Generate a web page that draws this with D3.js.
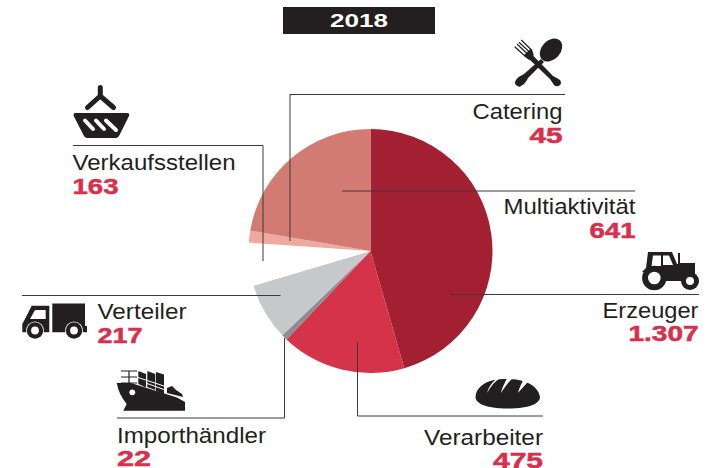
<!DOCTYPE html>
<html>
<head>
<meta charset="utf-8">
<script src="https://cdn.jsdelivr.net/npm/d3@7"></script>
<style>
html,body{margin:0;padding:0;background:#fff}
svg{display:block}
text{font-family:"Liberation Sans",Arial,sans-serif}
</style>
</head>
<body>
<svg id="c" width="706" height="468"></svg>
<script>
const title = "2018";
const categories = ["Erzeuger","Verarbeiter","Importhändler","Verteiler","Verkaufsstellen","Catering","Multiaktivität"];
const values = [1307,475,22,217,163,45,641];
const valueLabels = ["1.307","475","22","217","163","45","641"];
const colors = ["#a32032","#d53349","#8b8d90","#c6c8ca","#ffffff","#efa99f","#d27b72"];

// label layout: anchor x, name baseline, name width, value baseline, value width, leader polyline
const layout = {
  "Erzeuger":       {a:"end",  x:698.5,ny:317.5,nw:96, vy:341,  vw:70, line:[[451,294.5],[699,294.5]]},
  "Verarbeiter":    {a:"end",  x:543,  ny:444.5,nw:119,vy:467.5,vw:50, line:[[357.5,342],[357.5,416],[543,416]]},
  "Importhändler":  {a:"start",x:117,  ny:443,  nw:149,vy:466,  vw:34, line:[[117,418],[284.5,418],[284.5,338]]},
  "Verteiler":      {a:"start",x:97.5, ny:319,  nw:89, vy:342.5,vw:45, line:[[22,295.5],[280.5,295.5]]},
  "Verkaufsstellen":{a:"start",x:72.5, ny:170,  nw:163,vy:194,  vw:46, line:[[73,145.5],[263,145.5],[263,261]]},
  "Catering":       {a:"end",  x:562.5,ny:119,  nw:90, vy:143,  vw:33, line:[[565,94.5],[290,94.5],[290,241]]},
  "Multiaktivität": {a:"end",  x:635.5,ny:214,  nw:132,vy:238,  vw:46, line:[[342,191],[635,191]]}
};

const svg = d3.select("#c");
const ink = "#231f20";

// title
svg.append("rect").attr("x",283).attr("y",7).attr("width",152).attr("height",27).attr("fill",ink);
svg.append("text").attr("x",359).attr("y",27).attr("text-anchor","middle")
  .attr("fill","#fff").attr("font-size",18.5).attr("font-weight",700)
  .attr("textLength",58).attr("lengthAdjust","spacingAndGlyphs").text(title);

// pie
const pie = d3.pie().sort(null).value(d=>d)(values);
const arc = d3.arc().innerRadius(0).outerRadius(122);
svg.append("g").attr("transform","translate(370.5,251)")
  .selectAll("path").data(pie).join("path")
  .attr("d",arc).attr("fill",(d,i)=>colors[i]);

// leaders
const lineGen = d3.line();
svg.append("g").selectAll("path").data(categories).join("path")
  .attr("d",c=>lineGen(layout[c].line)).attr("fill","none")
  .attr("stroke","#3c3a3b").attr("stroke-width",1);

// labels
categories.forEach((c,i)=>{
  const l = layout[c];
  svg.append("text").attr("x",l.x).attr("y",l.ny).attr("text-anchor",l.a)
    .attr("fill",ink).attr("font-size",22.5)
    .attr("textLength",l.nw).attr("lengthAdjust","spacingAndGlyphs").text(c);
  svg.append("text").attr("x",l.x).attr("y",l.vy).attr("text-anchor",l.a)
    .attr("fill","#d92f4c").attr("font-size",21.5).attr("font-weight",700)
    .attr("stroke","#d92f4c").attr("stroke-width",0.5)
    .attr("textLength",l.vw).attr("lengthAdjust","spacingAndGlyphs").text(valueLabels[i]);
});

// icons
const ic = svg.append("g").attr("fill",ink);
function p(d,fill){return ic.append("path").attr("d",d).attr("fill",fill||ink);}
function s(d,w,col,cap){return ic.append("path").attr("d",d).attr("fill","none").attr("stroke",col||ink).attr("stroke-width",w).attr("stroke-linecap",cap||"round");}
function circ(x,y,r,fill){return ic.append("circle").attr("cx",x).attr("cy",y).attr("r",r).attr("fill",fill||ink);}

// basket
s("M100.3,87.5 V97 M87.5,107.5 L100.3,96 L113.5,107.5",5);
p("M75.5,113 H127 Q130,113 129,116 L119,136 Q118,138 115.5,138 H87.5 Q85,138 84,136 L73.7,116 Q73,113 75.5,113 Z");
s("M85,120.5 L93,129 M96,120.5 L104,129 M106,120.5 L116,130",4,"#fff");

// fork and spoon
p("M516,80 Q519,76 524,74 L541,59 L544,62 L528,78 Q526,83 521,86 Q519,88 516,85 Q514,83 516,80 Z");
ic.append("ellipse").attr("cx",551).attr("cy",50).attr("rx",13).attr("ry",9.5)
  .attr("transform","rotate(-48 551 50)").attr("fill",ink);
s("M514.7,46.7 L526,57 M517,44 L528,54.5 M519,42.3 L530,52.5 M521.3,40 L532,50.5",1.2,ink,"butt");
p("M524,55 L531,48.5 Q534,53 533.5,56 L553,76 Q557,78 560,80 Q562,83 560,85 Q557,87.5 554,85 Q552,82 550,79 L530,60 Q527,59.5 524,55 Z");

// tractor
p("M648,252 H672 L677,264 H678 V253 H680 V263 H695 V281 H662 V272 H642 L646,268 Z");
p("M653,255.5 H661 V266 H651.5 Z M663,255.5 H669 L673,265 H663 Z","#fff");
circ(654.3,278,12.2); circ(654.3,278,6.3,"#fff");
circ(690,281,9); circ(690,281,4,"#fff");

// truck
p("M52.3,303.5 H85 V326 H87 V332.3 H52.3 Z");
p("M49.3,305.7 H31.7 L25,319 L22.3,324 V332.3 H49.3 Z");
p("M35,310 H45.7 V319 H30 Z","#fff");
circ(35,330.5,9,"#fff"); circ(74,330.5,9,"#fff");
circ(35,330.5,8.2); circ(74,330.5,8.2);
circ(35,330.5,3.9,"#fff"); circ(74,330.5,3.9,"#fff");

// ship
p("M116.7,383 L131,383 L177,397.5 L185,402 V410.7 H123.3 L126.7,404 Q119,395 116.7,383 Z");
circ(132.3,392.3,2.9,"#fff");
p("M138.3,371 L146,374 V387.5 L138.3,384 Z M147.3,371 L155.3,374 V390 L147.3,387 Z M156,372 L164,374.5 V394 L156,391 Z");
s("M138,377.5 L164,386 M147,383.5 L164,389.5",1,"#fff","butt");
s("M121,371 H137 M121,377 H137 M121,383 H137 M129,371 V383",1.2,ink,"butt");
p("M167,388 L172,386 L176,390 L182,394 L183,397 L167,393 Z");

// bread
p("M475.5,397 C476,388 484,382 494,380 C502,378.5 515,378.5 523,381 C533,384 539,390 540,397 C540,403 531,408.5 508,408.5 C485,408.5 475.5,403 475.5,397 Z");
p("M487,393 C488,388 491,384 496,379 L499,379 C493,383 490,388 487,393 Z M501,393 C502,387 506,381 508,376 L515,376 C509,381 505,387 501,393 Z M518,393 C519,388 522,383 524,378 L530,380 C526,384 522,388 518,393 Z","#fff");
</script>
</body>
</html>
